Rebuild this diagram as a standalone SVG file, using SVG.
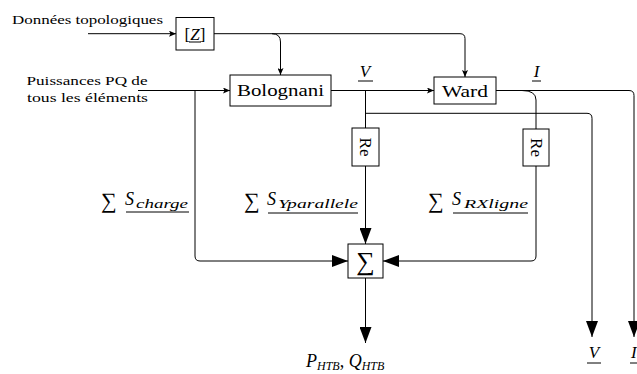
<svg xmlns="http://www.w3.org/2000/svg" width="637" height="374" viewBox="0 0 637 374">
<style>
text{font-family:"Times New Roman","Liberation Serif",Times,"DejaVu Serif",serif;fill:#000}
.it{font-style:italic}
.box{fill:#fff;stroke:#000;stroke-width:1}
.ln{fill:none;stroke:#000;stroke-width:1}
.ul{stroke:#000;stroke-width:1}
.s{marker-end:url(#sa)}
.b{marker-end:url(#ba)}
</style>
<defs>
<marker id="sa" markerUnits="userSpaceOnUse" markerWidth="8" markerHeight="6" refX="7" refY="3" orient="auto"><path d="M0,0 L7,3 L0,6 L1.5,3 z" fill="#000"/></marker>
<marker id="ba" markerUnits="userSpaceOnUse" markerWidth="16" markerHeight="12" refX="16" refY="6" orient="auto"><path d="M0,0 L16,6 L0,12 z" fill="#000"/></marker>
</defs>
<rect width="637" height="374" fill="#fff"/>

<g id="connectors">
<path class="ln s" d="M88,33.7 H176"/>
<path class="ln s" d="M214,33.7 H460 Q465,33.7 465,38.7 V77"/>
<path class="ln s" d="M272,33.7 Q280.5,33.7 280.5,42 V75"/>
<path class="ln s" d="M138,90.5 H230"/>
<path class="ln b" d="M195,90.5 V256 Q195,261 200,261 H348"/>
<path class="ln s" d="M331,90.5 H434"/>
<path class="ln" d="M365.5,90.5 V128"/>
<path class="ln b" d="M365.5,166 V244"/>
<path class="ln b" d="M365.5,113.3 H587 Q592,113.3 592,118.3 V337"/>
<path class="ln b" d="M496,90.5 H629 Q634,90.5 634,95.5 V337"/>
<path class="ln" d="M522,90.5 Q536,90.5 536,100 V129"/>
<path class="ln b" d="M536,166 V256 Q536,261 531,261 H383"/>
<path class="ln b" d="M365.5,278 V343"/>
</g>

<g id="input-topo">
<text x="12" y="24" font-size="13.5" textLength="151" lengthAdjust="spacingAndGlyphs">Données topologiques</text>
</g>
<g id="input-pq">
<text x="87" y="85" font-size="13.5" text-anchor="middle" textLength="121" lengthAdjust="spacingAndGlyphs">Puissances PQ de</text>
<text x="87.5" y="102" font-size="13.5" text-anchor="middle" textLength="121" lengthAdjust="spacingAndGlyphs">tous les éléments</text>
</g>

<g id="node-Z">
<rect class="box" x="176" y="17.5" width="38" height="32.5"/>
<text x="195" y="40" font-size="17" text-anchor="middle">[<tspan class="it">Z</tspan>]</text>
<line class="ul" x1="189" y1="42" x2="201" y2="42"/>
</g>

<g id="node-bolognani">
<rect class="box" x="230" y="75" width="101" height="31"/>
<text x="280.5" y="96" font-size="17" text-anchor="middle" textLength="87" lengthAdjust="spacingAndGlyphs">Bolognani</text>
</g>

<g id="node-ward">
<rect class="box" x="434" y="77" width="62" height="27"/>
<text x="465" y="97" font-size="17" text-anchor="middle" textLength="46" lengthAdjust="spacingAndGlyphs">Ward</text>
</g>

<g id="node-re1">
<rect class="box" x="352" y="128" width="27" height="38"/>
<text transform="translate(365.5,147) rotate(90)" x="0" y="5.5" font-size="17" text-anchor="middle">Re</text>
</g>

<g id="node-re2">
<rect class="box" x="523" y="129" width="26" height="37"/>
<text transform="translate(536,147.5) rotate(90)" x="0" y="5.5" font-size="17" text-anchor="middle">Re</text>
</g>

<g id="node-sum">
<rect class="box" x="348" y="244" width="35" height="34"/>
<text x="365.5" y="270" font-size="26" text-anchor="middle">∑</text>
</g>

<g id="label-V-top">
<text class="it" x="365" y="77" font-size="17" text-anchor="middle">V</text>
<line class="ul" x1="358" y1="81" x2="373" y2="81"/>
</g>
<g id="label-I-top">
<text class="it" x="536.5" y="77" font-size="17" text-anchor="middle">I</text>
<line class="ul" x1="532" y1="81" x2="541" y2="81"/>
</g>

<g id="label-scharge">
<text x="101" y="208" font-size="22">∑</text>
<text class="it" x="125" y="205" font-size="18">S</text>
<text class="it" x="136" y="208" font-size="12" textLength="52" lengthAdjust="spacingAndGlyphs">charge</text>
<line class="ul" x1="126" y1="212" x2="189" y2="212"/>
</g>
<g id="label-sypar">
<text x="244" y="208" font-size="22">∑</text>
<text class="it" x="267" y="205" font-size="18">S</text>
<text class="it" x="278" y="208" font-size="12" textLength="80" lengthAdjust="spacingAndGlyphs">Yparallele</text>
<line class="ul" x1="268" y1="213" x2="358" y2="213"/>
</g>
<g id="label-srx">
<text x="428" y="208" font-size="22">∑</text>
<text class="it" x="452" y="205" font-size="18">S</text>
<text class="it" x="464" y="208" font-size="12" textLength="64" lengthAdjust="spacingAndGlyphs">RXligne</text>
<line class="ul" x1="453" y1="213" x2="528" y2="213"/>
</g>

<g id="label-P">
<text class="it" x="306" y="367" font-size="18">P<tspan font-size="12" dy="3">HTB</tspan><tspan font-style="normal" dy="-3">, </tspan>Q<tspan font-size="12" dy="3">HTB</tspan></text>
</g>

<g id="label-V-out">
<text class="it" x="594" y="358" font-size="17" text-anchor="middle">V</text>
<line class="ul" x1="587" y1="363" x2="601" y2="363"/>
</g>
<g id="label-I-out">
<text class="it" x="631" y="358" font-size="17">I</text>
<line class="ul" x1="630" y1="363" x2="640" y2="363"/>
</g>
</svg>
